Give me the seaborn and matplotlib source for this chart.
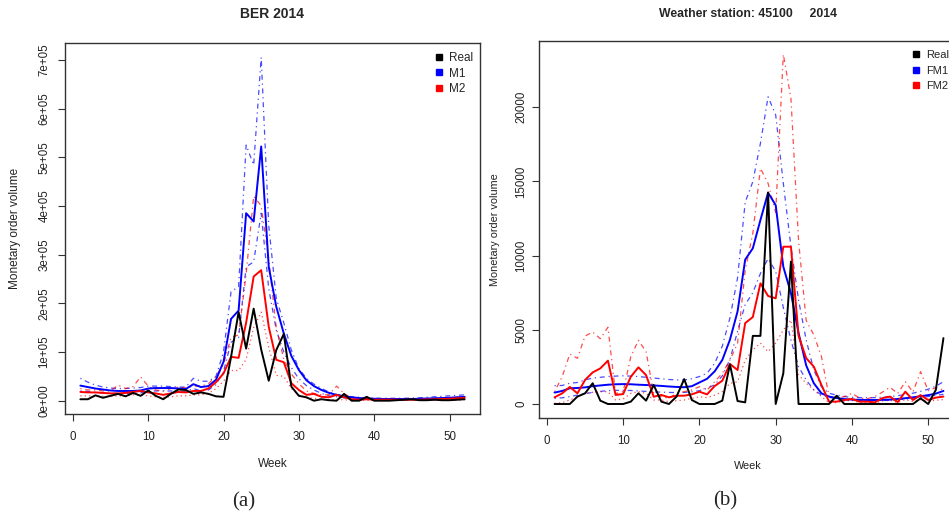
import matplotlib
matplotlib.use("Agg")
import matplotlib.pyplot as plt
import seaborn as sns
import pandas as pd
from matplotlib.lines import Line2D
from matplotlib.ticker import FuncFormatter

weeks = list(range(1, 53))

# ---------- Panel (a): BER 2014 (values in units of 1e5) ----------
ber_real = [.03, .03, .11, .06, .10, .14, .09, .16, .10, .21, .10, .03, .14, .23, .22, .14, .17, .14, .09, .08,
            .90, 1.82, 1.07, 1.89, 1.05, .41, 1.04, 1.37, .29, .10, .07, .00, .03, .01, .00, .14, .00, .00, .08, .00,
            .00, .00, .01, .02, .03, .01, .01, .02, .01, .01, .02, .03]
ber_m1 = [.31, .28, .25, .23, .21, .20, .20, .20, .21, .25, .26, .26, .26, .25, .24, .34, .28, .30, .43, .80,
          1.68, 1.85, 3.85, 3.68, 5.22, 2.75, 1.93, 1.38, .92, .63, .42, .30, .22, .16, .12, .09, .07, .055, .045, .04,
          .035, .035, .035, .035, .035, .04, .045, .05, .055, .06, .07, .08]
ber_m1_up = [.46, .38, .32, .28, .26, .25, .25, .26, .27, .30, .30, .30, .29, .28, .28, .46, .40, .40, .50, 1.00,
             2.24, 2.34, 5.25, 4.84, 7.05, 3.60, 2.10, 1.60, 1.04, .66, .46, .34, .25, .18, .13, .10, .08, .07, .06, .055,
             .05, .05, .05, .05, .055, .06, .07, .08, .09, .10, .11, .12]
ber_m1_lo = [.20, .19, .17, .16, .15, .15, .15, .15, .16, .20, .20, .20, .20, .20, .19, .25, .20, .22, .33, .60,
             1.20, 1.30, 2.75, 2.85, 3.85, 2.30, 1.45, 1.00, .68, .45, .31, .22, .15, .10, .08, .06, .04, .035, .03, .03,
             .03, .03, .03, .03, .03, .035, .035, .04, .045, .05, .055, .06]
ber_m2 = [.18, .17, .17, .16, .15, .15, .16, .18, .20, .17, .15, .12, .15, .18, .17, .20, .20, .25, .38, .56,
          .90, .88, 1.60, 2.55, 2.68, 1.52, .84, .79, .36, .22, .12, .14, .08, .07, .12, .07, .03, .02, .03, .02,
          .02, .02, .02, .02, .02, .02, .025, .03, .035, .04, .05, .06]
ber_m2_up = [.25, .22, .22, .20, .20, .32, .25, .29, .49, .30, .22, .20, .25, .28, .26, .30, .30, .35, .50, .75,
             1.30, 1.35, 2.60, 4.20, 4.00, 2.90, 1.50, .85, .55, .35, .20, .15, .12, .12, .30, .15, .05, .04, .05, .03,
             .03, .03, .03, .03, .03, .04, .04, .05, .05, .06, .07, .08]
ber_m2_lo = [.10, .10, .10, .09, .09, .10, .10, .12, .12, .10, .08, .07, .08, .10, .10, .12, .12, .15, .25, .40,
             .62, .62, .85, 1.50, 1.82, 1.10, .52, .50, .25, .12, .06, .05, .03, .02, .02, .02, .01, .01, .01, .01,
             .01, .01, .01, .01, .01, .01, .01, .01, .01, .01, .01, .02]

# ---------- Panel (b): Weather station 45100, 2014 ----------
ws_real = [0, 0, 0, 500, 720, 1400, 225, 0, 0, 0, 160, 720, 225, 1280, 160, 0, 500, 1680, 270, 0,
           0, 0, 225, 2670, 200, 110, 4590, 4590, 14250, 0, 2070, 9600, 0, 0, 0, 0, 0, 560, 0, 0,
           0, 0, 0, 0, 0, 0, 0, 0, 380, 0, 950, 4440]
ws_fm1 = [770, 880, 1060, 1080, 1120, 1200, 1250, 1300, 1330, 1340, 1330, 1300, 1280, 1250, 1220, 1180, 1150, 1130, 1200, 1450,
          1700, 2200, 2970, 4330, 6240, 9730, 10490, 12400, 14240, 13400, 9250, 7470, 4780, 2600, 1400, 720, 500, 400, 330, 300,
          280, 270, 270, 280, 300, 340, 390, 450, 520, 600, 700, 880]
ws_fm1_up = [1240, 1250, 1400, 1450, 1620, 1750, 1800, 1850, 1880, 1900, 1880, 1850, 1800, 1750, 1700, 1650, 1620, 1620, 1700, 1850,
             2070, 2750, 3900, 5800, 8500, 13600, 14980, 17570, 20700, 19480, 14870, 10600, 7000, 4310, 2290, 1160, 720, 600, 500, 450,
             430, 420, 430, 450, 500, 560, 640, 730, 850, 1000, 1200, 1500]
ws_fm1_lo = [380, 420, 500, 600, 700, 780, 850, 900, 920, 920, 910, 880, 850, 820, 800, 780, 770, 780, 820, 900,
             1050, 1300, 1900, 3000, 4900, 6700, 7500, 8800, 9800, 8940, 6500, 4300, 2520, 1620, 950, 610, 450, 350, 300, 260,
             240, 230, 230, 240, 260, 290, 330, 380, 440, 500, 580, 650]
ws_fm2 = [450, 720, 1150, 720, 1620, 2130, 2400, 2920, 610, 670, 1840, 2470, 1950, 490, 610, 450, 560, 560, 650, 830,
          650, 1210, 1570, 2700, 2290, 5450, 5860, 8130, 7280, 7120, 10600, 10600, 4590, 3090, 2520, 1280, 160, 160, 270, 340,
          160, 160, 110, 400, 500, 130, 830, 270, 600, 270, 430, 500]
ws_fm2_up = [830, 1840, 3370, 3080, 4580, 4850, 4400, 5170, 700, 830, 3190, 4290, 3530, 720, 490, 380, 720, 830, 940, 1170,
             940, 1500, 2070, 2960, 4090, 9000, 11500, 15880, 14870, 12900, 23560, 20600, 11000, 5630, 4660, 3200, 500, 380, 500, 720,
             400, 350, 500, 800, 1130, 700, 1500, 800, 2180, 900, 1100, 950]
ws_fm2_lo = [45, 90, 270, 490, 720, 790, 830, 830, 270, 340, 720, 830, 720, 270, 270, 160, 225, 270, 380, 490,
             430, 600, 830, 1390, 1500, 2960, 3640, 4110, 3530, 4110, 4990, 5660, 1960, 1400, 950, 500, 90, 90, 200, 250,
             90, 80, 60, 200, 250, 100, 300, 150, 300, 200, 250, 300]

left_labels = ["Real", "M1", "M2"]
right_labels = ["Real", "FM1", "FM2"]
left_yticks = [0, 1e5, 2e5, 3e5, 4e5, 5e5, 6e5, 7e5]
right_yticks = [0, 5000, 10000, 15000, 20000]
xticks = [0, 10, 20, 30, 40, 50]

sns.set_style("ticks")
plt.rcParams['font.family'] = ['Liberation Sans', 'DejaVu Sans']

W, H = 949, 515
fig = plt.figure(figsize=(W / 100, H / 100), dpi=100)
axL = fig.add_axes([65 / W, 1 - 414 / H, (480 - 65) / W, (414 - 43) / H])
axR = fig.add_axes([539 / W, 1 - 418 / H, (959 - 539) / W, (418 - 41) / H])

UP = (0, (1, 3, 4, 3))
LO = (0, (1, 2.5))


def draw(ax, scale, real, m1, m1u, m1l, m2, m2u, m2l):
    df = pd.DataFrame({
        "week": weeks,
        "real": [v * scale for v in real],
        "m1": [v * scale for v in m1], "m1u": [v * scale for v in m1u], "m1l": [v * scale for v in m1l],
        "m2": [v * scale for v in m2], "m2u": [v * scale for v in m2u], "m2l": [v * scale for v in m2l],
    })
    for col, c, ls in [("m1u", "#0000FF", UP), ("m1l", "#0000FF", UP),
                       ("m2u", "#FF0000", UP), ("m2l", "#FF0000", LO)]:
        sns.lineplot(data=df, x="week", y=col, ax=ax, color=c, linewidth=0.9,
                     linestyle=ls, alpha=0.7, legend=False)
    sns.lineplot(data=df, x="week", y="m1", ax=ax, color="#0000FF", linewidth=1.4, legend=False)
    sns.lineplot(data=df, x="week", y="m2", ax=ax, color="#FF0000", linewidth=1.4, legend=False)
    sns.lineplot(data=df, x="week", y="real", ax=ax, color="black", linewidth=1.4, legend=False)


draw(axL, 1e5, ber_real, ber_m1, ber_m1_up, ber_m1_lo, ber_m2, ber_m2_up, ber_m2_lo)
draw(axR, 1, ws_real, ws_fm1, ws_fm1_up, ws_fm1_lo, ws_fm2, ws_fm2_up, ws_fm2_lo)

axL.set_xlim(-1.04, 54.04)
axL.set_ylim(-0.273e5, 7.345e5)
axR.set_xlim(-1.04, 54.04)
axR.set_ylim(-943, 24461)

for ax, yt, ypad in [(axL, left_yticks, 5.5), (axR, right_yticks, 3.5)]:
    ax.set_xticks(xticks)
    ax.set_yticks(yt)
    for s in ax.spines.values():
        s.set_color("#333333")
        s.set_linewidth(1.0)
    ax.tick_params(axis="both", direction="out", length=5, width=0.8, color="#333333",
                   labelsize=8.3, labelcolor="#222222")
    ax.tick_params(axis="x", pad=7.5)
    ax.tick_params(axis="y", pad=ypad, labelrotation=90)

axL.yaxis.set_major_formatter(FuncFormatter(lambda v, p: "0e+00" if v == 0 else "%de+05" % round(v / 1e5)))
axR.yaxis.set_major_formatter(FuncFormatter(lambda v, p: "%d" % v))
for ax in (axL, axR):
    for lbl in ax.get_yticklabels():
        lbl.set_va("center")

axL.set_xlabel("Week", fontsize=8.5, color="#222222")
axL.xaxis.label.set_va("center")
axL.xaxis.set_label_coords(0.5, (414 - 464) / 371)
axL.set_ylabel("Monetary order volume", fontsize=8.5, color="#222222")
axL.yaxis.label.set_va("center")
axL.yaxis.set_label_coords((15 - 65) / 415, 0.5)

axR.set_xlabel("Week", fontsize=7.8, color="#222222")
axR.xaxis.label.set_va("center")
axR.xaxis.set_label_coords((748 - 539) / 420, (418 - 466) / 377)
axR.set_ylabel("Monetary order volume", fontsize=7.8, color="#222222")
axR.yaxis.label.set_va("center")
axR.yaxis.set_label_coords((495 - 539) / 420, 0.5)

# legends
colors = ["black", "#0000FF", "#FF0000"]
for ax, labels, bx, by, fs, sp in [(axL, left_labels, (435 - 65) / 415, (414 - 52) / 371, 8.5, 0.3),
                                   (axR, right_labels, (913 - 539) / 420, (418 - 50) / 377, 8.0, 0.5)]:
    handles = [Line2D([], [], marker="s", color=c, linestyle="None", markersize=4.5) for c in colors]
    ax.legend(handles, labels, loc="upper left", bbox_to_anchor=(bx, by), frameon=False,
              fontsize=fs, handlelength=0.6, handletextpad=0.6, labelspacing=sp,
              borderpad=0, borderaxespad=0)

# titles and captions
fig.text(272 / W, 1 - 14 / H, "BER 2014", ha="center", va="center", fontsize=10, fontweight="bold")
fig.text(748 / W, 1 - 14 / H, "Weather station: 45100     2014", ha="center", va="center",
         fontsize=8.8, fontweight="bold")
fig.text(244 / W, 1 - 502 / H, "(a)", ha="center", va="center", fontsize=15,
         family=["Liberation Serif", "DejaVu Serif"])
fig.text(725 / W, 1 - 501 / H, "(b)", ha="center", va="center", fontsize=15,
         family=["Liberation Serif", "DejaVu Serif"])

fig.savefig("out.png", dpi=100)
